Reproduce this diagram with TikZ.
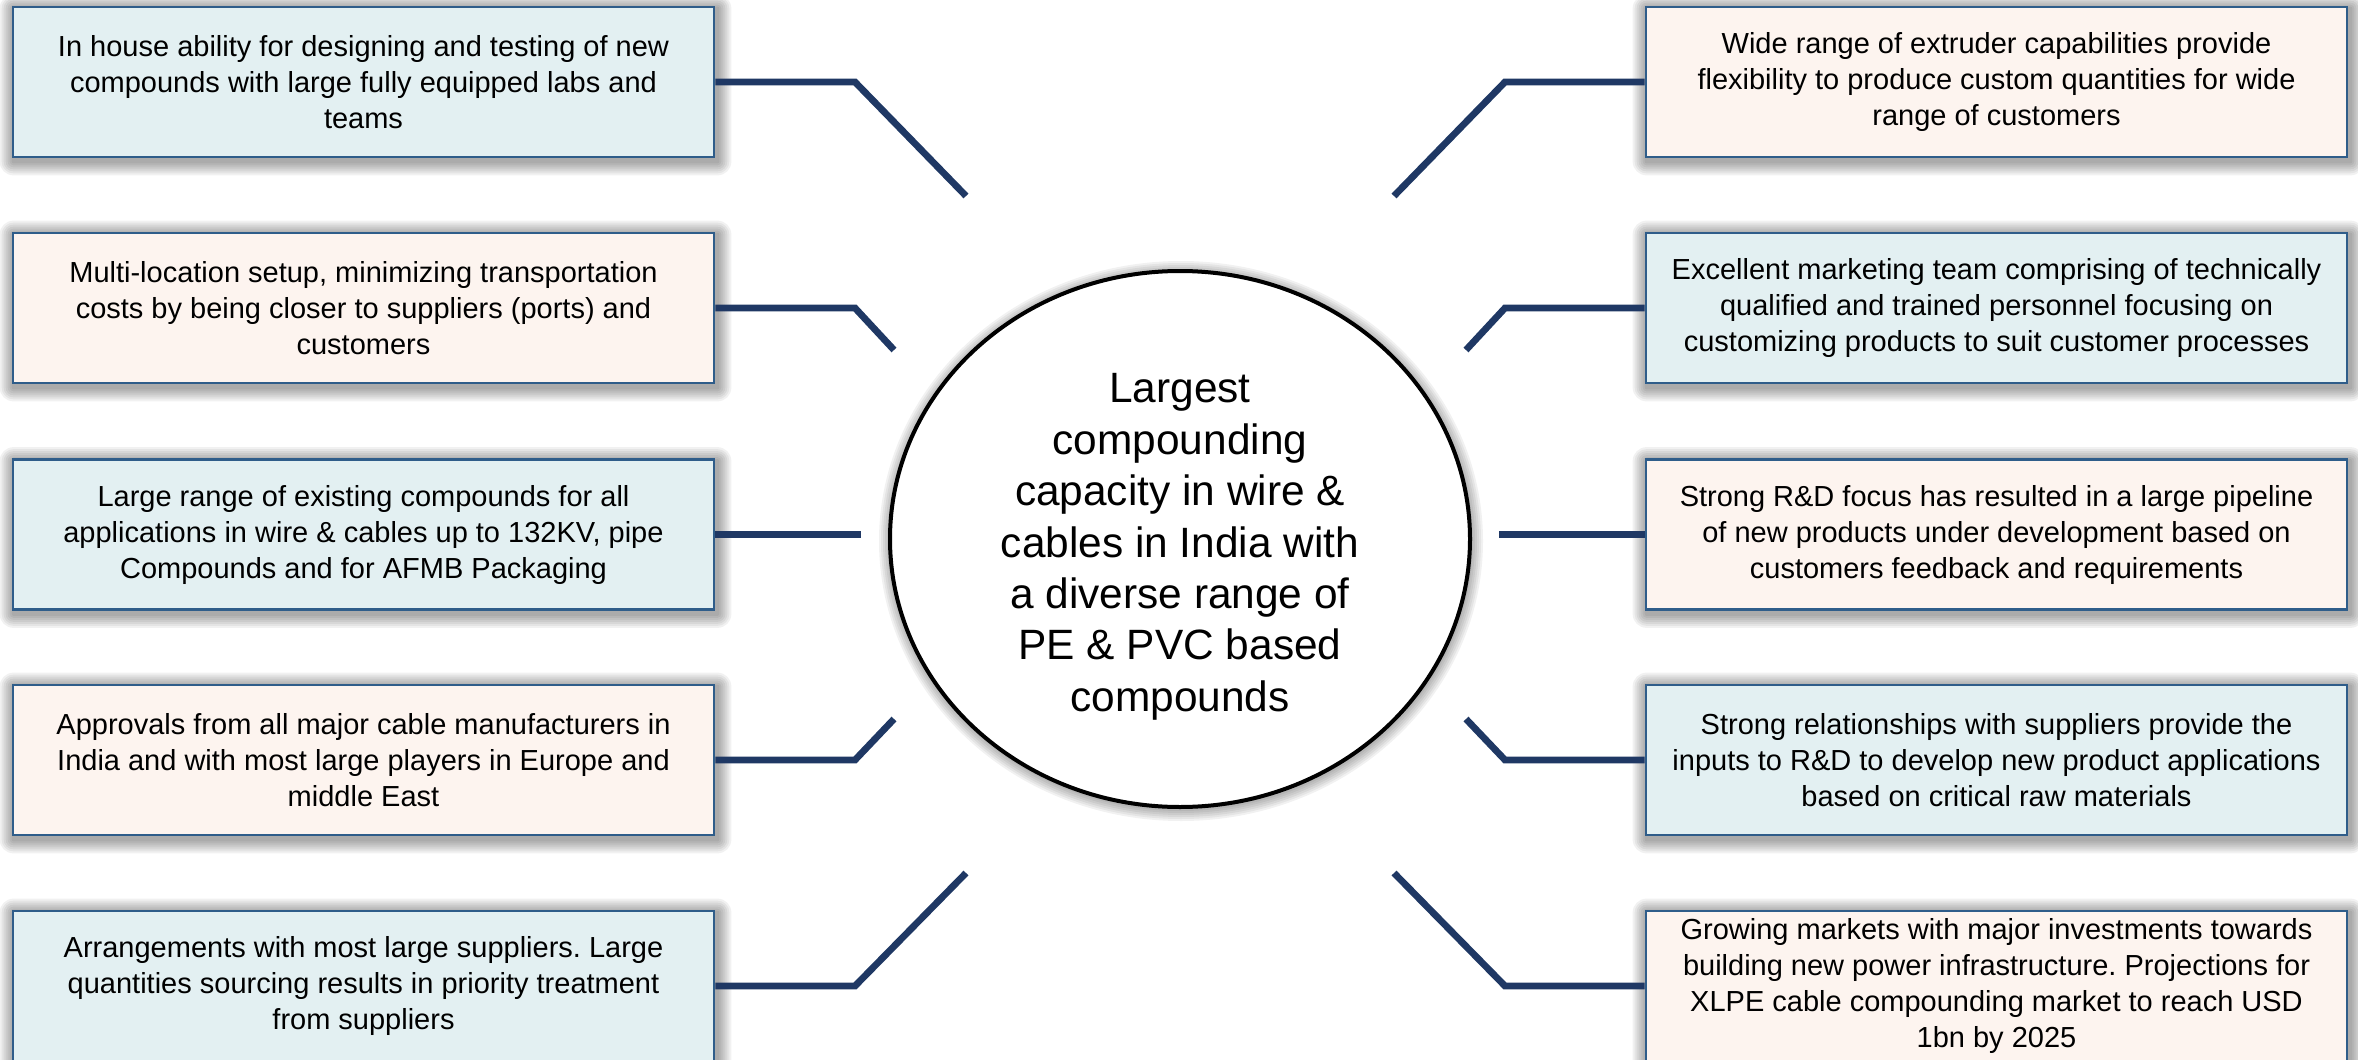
\documentclass[tikz,border=0pt]{standalone}
\usepackage{fontspec}
\setmainfont{Liberation Sans}
\usetikzlibrary{shapes.geometric}
\pgfdeclarelayer{background}
\pgfsetlayers{background,main}
\frenchspacing
\definecolor{bluefill}{HTML}{E3F0F2}
\definecolor{peachfill}{HTML}{FDF4EF}
\definecolor{boxborder}{HTML}{2F5D8A}
\definecolor{connnavy}{HTML}{1F3864}
\tikzset{
  infobox/.style={draw=boxborder, line width=1.4pt, minimum width=350.5pt, minimum height=75pt,
    inner sep=0pt, align=center, font=\fontsize{14.5pt}{18pt}\selectfont},
  bluebox/.style={infobox, fill=bluefill},
  peachbox/.style={infobox, fill=peachfill},
  conn/.style={draw=connnavy, line width=3.4pt},
  hub/.style={ellipse, draw=black, line width=2pt, fill=white, minimum width=290pt, minimum height=268pt,
    inner sep=0pt},
  hubtext/.style={inner sep=0pt, align=center, font=\fontsize{21.2pt}{25.7pt}\selectfont},
  shadowlayer/.style={fill=black, opacity=0.055}
}
\newcommand{\mkshadow}[1]{%
  \begin{pgfonlayer}{background}
  \foreach \s in {2,4,...,14} {
    \fill[shadowlayer, rounded corners=0.5*\s pt]
      ([shift={(2-\s,3-\s)}]#1.north west) rectangle ([shift={(2+\s,3+\s)}]#1.south east);
  }
  \end{pgfonlayer}}
\begin{document}
\begin{tikzpicture}[x=0.5pt,y=-0.5pt]
\useasboundingbox (0,0) rectangle (2358,1060);
% left boxes
\node[bluebox]  (l1) at (363.5,82)   {In house ability for designing and testing of new\\compounds with large fully equipped labs and\\teams};
\node[peachbox] (l2) at (363.5,308)  {Multi-location setup, minimizing transportation\\costs by being closer to suppliers (ports) and\\customers};
\node[bluebox]  (l3) at (363.5,534.5){Large range of existing compounds for all\\applications in wire \& cables up to 132KV, pipe\\Compounds and for AFMB Packaging};
\node[peachbox] (l4) at (363.5,760)  {Approvals from all major cable manufacturers in\\India and with most large players in Europe and\\middle East};
\node[bluebox]  (l5) at (363.5,986)  {Arrangements with most large suppliers. Large\\quantities sourcing results in priority treatment\\from suppliers};
% right boxes
\node[peachbox] (r1) at (1996.5,82)   {Wide range of extruder capabilities provide\\flexibility to produce custom quantities for wide\\range of customers};
\node[bluebox]  (r2) at (1996.5,308)  {Excellent marketing team comprising of technically\\qualified and trained personnel focusing on\\customizing products to suit customer processes};
\node[peachbox] (r3) at (1996.5,534.5){Strong R\&D focus has resulted in a large pipeline\\of new products under development based on\\customers feedback and requirements};
\node[bluebox]  (r4) at (1996.5,760)  {Strong relationships with suppliers provide the\\inputs to R\&D to develop new product applications\\based on critical raw materials};
\node[peachbox] (r5) at (1996.5,986)  {Growing markets with major investments towards\\building new power infrastructure. Projections for\\XLPE cable compounding market to reach USD\\1bn by 2025};
\mkshadow{l1}\mkshadow{l2}\mkshadow{l3}\mkshadow{l4}\mkshadow{l5}
\mkshadow{r1}\mkshadow{r2}\mkshadow{r3}\mkshadow{r4}\mkshadow{r5}
% hub
\node[hub] (hub) at (1180,539) {};
\node[hubtext] (hubtxt) at (1180,547) {Largest\\compounding\\capacity in wire \&\\cables in India with\\a diverse range of\\PE \& PVC based\\compounds};
\begin{pgfonlayer}{background}
\foreach \s in {2,4,...,14} {
  \fill[shadowlayer] ([shift={(1,2)}]hub.center) ellipse [x radius=290+\s-2, y radius=268+\s-2];
}
\end{pgfonlayer}
% connector corners and free ends
\coordinate (kl1) at (855,82);   \coordinate (el1) at (966,196);
\coordinate (kl2) at (855,308);  \coordinate (el2) at (894,350);
\coordinate (el3) at (861,534.5);
\coordinate (kl4) at (855,760);  \coordinate (el4) at (894,719);
\coordinate (kl5) at (855,986);  \coordinate (el5) at (966,873);
\coordinate (kr1) at (1505,82);  \coordinate (er1) at (1394,196);
\coordinate (kr2) at (1505,308); \coordinate (er2) at (1466,350);
\coordinate (er3) at (1499,534.5);
\coordinate (kr4) at (1505,760); \coordinate (er4) at (1466,719);
\coordinate (kr5) at (1505,986); \coordinate (er5) at (1394,873);
\draw[conn] (l1.east) -- (kl1) -- (el1);
\draw[conn] (l2.east) -- (kl2) -- (el2);
\draw[conn] (l3.east) -- (el3);
\draw[conn] (l4.east) -- (kl4) -- (el4);
\draw[conn] (l5.east) -- (kl5) -- (el5);
\draw[conn] (r1.west) -- (kr1) -- (er1);
\draw[conn] (r2.west) -- (kr2) -- (er2);
\draw[conn] (r3.west) -- (er3);
\draw[conn] (r4.west) -- (kr4) -- (er4);
\draw[conn] (r5.west) -- (kr5) -- (er5);
\end{tikzpicture}
\end{document}
